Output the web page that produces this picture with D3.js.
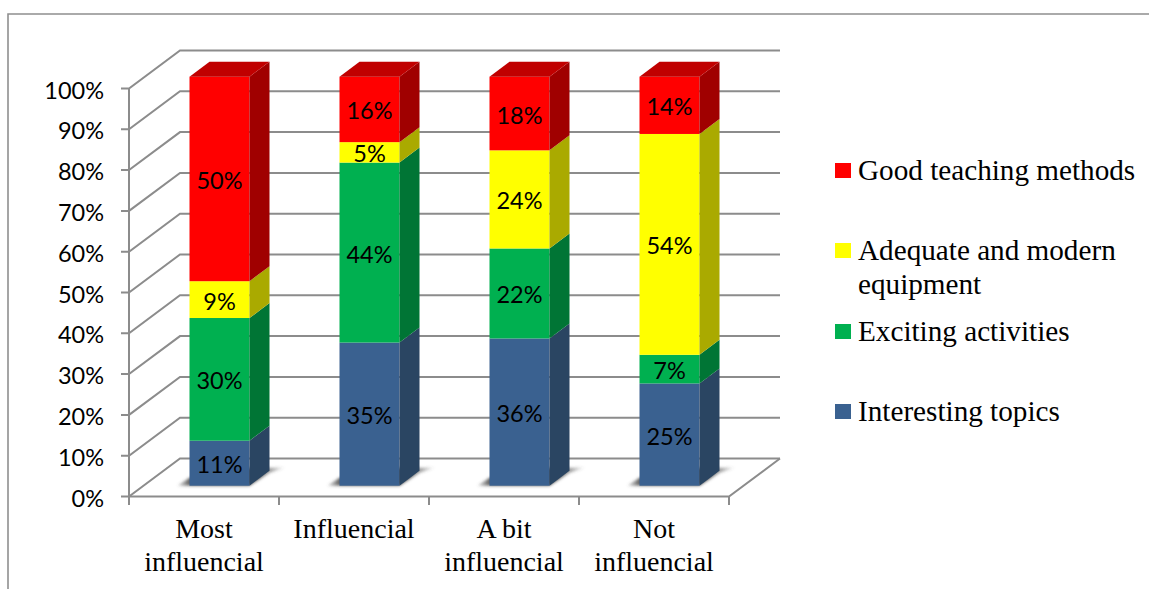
<!DOCTYPE html>
<html>
<head>
<meta charset="utf-8">
<script src="https://cdn.jsdelivr.net/npm/d3@7"></script>
<style>
html,body{margin:0;padding:0;background:#fff;overflow:hidden}
svg{display:block}
.num{font-family:Lato,"Open Sans",sans-serif;font-size:23.5px;fill:#000}
.serif{font-family:"Liberation Serif",serif;fill:#000}
</style>
</head>
<body>
<svg id="chart" width="1149" height="589"></svg>
<script>
const categories = [["Most","influencial"],["Influencial"],["A bit","influencial"],["Not","influencial"]];
const seriesNames = ["Interesting topics","Exciting activities","Adequate and modern equipment","Good teaching methods"];
const interesting = [11,35,36,25];
const exciting = [30,44,22,7];
const equipment = [9,5,24,54];
const teaching = [50,16,18,14];
const yTicks = [0,10,20,30,40,50,60,70,80,90,100];

const faceColors = ["#3A6190","#00B050","#FFFF00","#FF0000"];
const sideColors = ["#2A4562","#007535","#AAAA00","#A00000"];
const topColor = "#C00000";
const gridColor = "#8C8C8C";

const svg = d3.select("#chart");
const defs = svg.append("defs");
const shadowGrad = defs.append("linearGradient").attr("id","shadowFade").attr("x1","0").attr("x2","1").attr("y1","0").attr("y2","0");
shadowGrad.append("stop").attr("offset","0").attr("stop-color","#4A4A4A").attr("stop-opacity",0.2);
shadowGrad.append("stop").attr("offset","0.12").attr("stop-color","#4A4A4A").attr("stop-opacity",0.9);
shadowGrad.append("stop").attr("offset","0.75").attr("stop-color","#4A4A4A").attr("stop-opacity",0.9);
shadowGrad.append("stop").attr("offset","1").attr("stop-color","#4A4A4A").attr("stop-opacity",0.1);
defs.append("filter").attr("id","shadowBlur").attr("x","-40%").attr("y","-80%").attr("width","180%").attr("height","260%")
  .append("feGaussianBlur").attr("stdDeviation",1.8);
defs.append("filter").attr("id","soft")
  .append("feGaussianBlur").attr("stdDeviation",0.35);

// Outer frame, only the top and left edges show
svg.append("path").attr("d","M8,589V14H1149").attr("fill","none").attr("stroke","#8F8F8F").attr("stroke-width",1.6);

// Scales: axis wall (front) and bars share the value domain with different ranges
const yAxisScale = d3.scaleLinear().domain([0,100]).range([496.5,88.5]);
const yBar = d3.scaleLinear().domain([0,100]).range([485.7,76.7]);
const xBand = d3.scaleBand().domain(d3.range(categories.length)).range([129,729]);
const barWidth = 60;
const barInset = 60.5;
const wallDepth = {dx:51, dy:-38};
const barDepth = {dx:20, dy:-15};
const xBar = i => xBand(i) + barInset;

// Walls, floor and gridlines
const grid = svg.append("g").attr("fill","none").attr("stroke",gridColor).attr("stroke-width",2).attr("filter","url(#soft)");
yTicks.forEach(t=>{
  const y = yAxisScale(t);
  grid.append("path").attr("d",`M121,${y}H129L${129+wallDepth.dx},${y+wallDepth.dy}H${729+wallDepth.dx}`);
});
grid.append("path").attr("d",`M129,${yAxisScale(100)}V${yAxisScale(0)+8.5}`);
grid.append("path").attr("d",`M129,${yAxisScale(0)}H729L${729+wallDepth.dx},${yAxisScale(0)+wallDepth.dy}`);
xBand.domain().concat([categories.length]).forEach(i=>{
  const x = i<categories.length ? xBand(i) : 729;
  grid.append("path").attr("d",`M${x},${yAxisScale(0)}V${yAxisScale(0)+8.5}`);
});

// Value axis labels
svg.append("g").selectAll("text").data(yTicks).join("text")
  .attr("class","num").attr("x",104).attr("y",d=>yAxisScale(d)+10)
  .attr("text-anchor","end").text(d=>d+"%");

// Category labels
categories.forEach((lines,i)=>{
  lines.forEach((line,k)=>{
    svg.append("text").attr("class","serif").attr("font-size",28)
      .attr("x",xBand(i)+xBand.bandwidth()/2).attr("y",538+k*32.5)
      .attr("text-anchor","middle").text(line);
  });
});

// Stacked bars with depth
const stackedRows = categories.map((c,i)=>({i,a:interesting[i],b:exciting[i],c:equipment[i],d:teaching[i]}));
const stack = d3.stack().keys(["a","b","c","d"])(stackedRows);

// Floor shadows under each bar
stackedRows.forEach(r=>{
  const x = xBar(r.i), y = yBar(0);
  svg.append("path").attr("fill","url(#shadowFade)").attr("filter","url(#shadowBlur)")
    .attr("d",`M${x-12},${y}L${x+barWidth},${y}L${x+barWidth+barDepth.dx},${y+barDepth.dy+2}L${x+barWidth+barDepth.dx+15},${y+barDepth.dy-3}H${x+barWidth}L${x},${y-8}Z`);
});

stack.forEach((layer,s)=>{
  layer.forEach((d,i)=>{
    const x = xBar(i), y0 = yBar(d[0]), y1 = yBar(d[1]);
    const g = svg.append("g");
    g.append("rect").attr("x",x).attr("y",y1).attr("width",barWidth).attr("height",y0-y1).attr("fill",faceColors[s]);
    g.append("path").attr("fill",sideColors[s])
      .attr("d",`M${x+barWidth},${y1}L${x+barWidth+barDepth.dx},${y1+barDepth.dy}V${y0+barDepth.dy}L${x+barWidth},${y0}Z`);
    if(s===3){
      g.append("path").attr("fill",topColor)
        .attr("d",`M${x},${y1}L${x+barDepth.dx},${y1+barDepth.dy}H${x+barWidth+barDepth.dx}L${x+barWidth},${y1}Z`);
    }
  });
});

// Value labels on the bars
stack.forEach(layer=>{
  layer.forEach((d,i)=>{
    svg.append("text").attr("class","num").attr("text-anchor","middle")
      .attr("x",xBar(i)+barWidth/2).attr("y",(yBar(d[0])+yBar(d[1]))/2+10)
      .text((d[1]-d[0])+"%");
  });
});

// Legend, listed from the top series down
const legendRows = [
  {s:3,lines:["Good teaching methods"],y:170},
  {s:2,lines:["Adequate and modern","equipment"],y:250},
  {s:1,lines:["Exciting activities"],y:331},
  {s:0,lines:["Interesting topics"],y:411}
];
legendRows.forEach(r=>{
  svg.append("rect").attr("x",835).attr("y",r.y-7).attr("width",16).attr("height",15).attr("fill",faceColors[r.s]);
  r.lines.forEach((line,k)=>{
    svg.append("text").attr("class","serif").attr("font-size",29.2)
      .attr("x",858).attr("y",r.y+9.5+k*34).text(line);
  });
});
</script>
</body>
</html>
